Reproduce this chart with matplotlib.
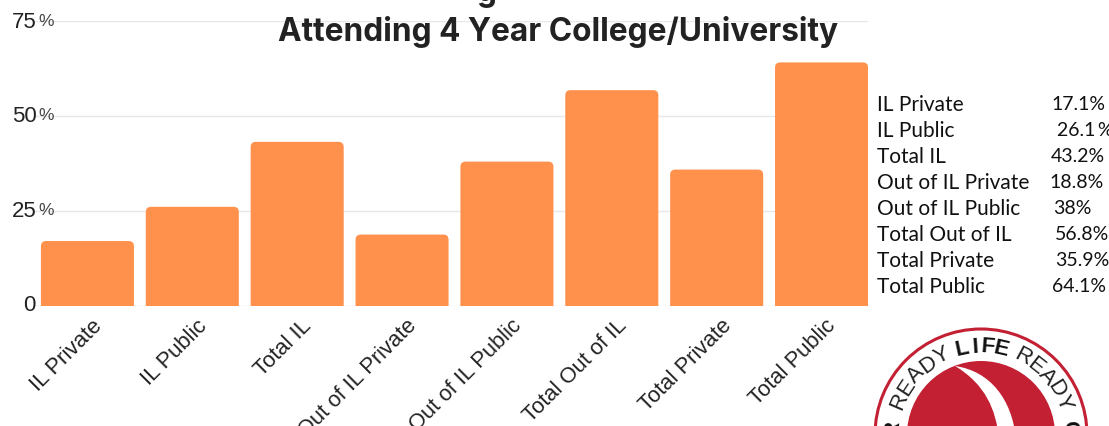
import matplotlib
matplotlib.use('Agg')
import matplotlib.pyplot as plt
import numpy as np
from matplotlib.patches import Circle, FancyBboxPatch, PathPatch
from matplotlib.path import Path
from matplotlib.transforms import offset_copy

W, H = 1109, 427

categories = ["IL Private", "IL Public", "Total IL", "Out of IL Private",
              "Out of IL Public", "Total Out of IL", "Total Private", "Total Public"]
values = [17.1, 26.1, 43.2, 18.8, 38, 56.8, 35.9, 64.1]
y_ticks = [0, 25, 50, 75]
table_values = ["17.1%", "26.1\u2009%", "43.2%", "18.8%", "38%", "56.8%", "35.9%", "64.1%"]
table_value_x = [1078, 1085, 1078, 1077, 1072, 1082, 1082, 1079]

BAR = "#FF914D"
DARK = "#222222"

fig = plt.figure(figsize=(W / 100, H / 100), dpi=100)
ax = fig.add_axes([35 / W, 1 - 307 / H, (868 - 35) / W, (307 - 22) / H])
ax.set_xlim(-0.5, 7.443)
ax.set_ylim(0, 75)
for s in ax.spines.values():
    s.set_visible(False)
ax.set_yticks(y_ticks)
ax.set_yticklabels([])
ax.grid(axis="y", color="#E8E8E8", lw=1)
ax.set_axisbelow(True)
ax.tick_params(length=0)

# rounded tops; the bottom corners run below the baseline and get clipped
width = 0.887
for i, v in enumerate(values):
    p = FancyBboxPatch((i - width / 2, -3), width, v + 3,
                       boxstyle="round,pad=0,rounding_size=0.05",
                       mutation_aspect=27, fc=BAR, ec="none", zorder=2)
    ax.add_patch(p)

ax.set_xticks(range(len(categories)))
ax.set_xticklabels(categories, rotation=45, ha="right", rotation_mode="anchor",
                   family="Liberation Sans", fontsize=15.8, color="#222222")
ax.tick_params(axis="x", pad=6)
for lab in ax.get_xticklabels():
    lab.set_transform(offset_copy(lab.get_transform(), fig=fig, x=4, y=0, units="dots"))

# y labels: big number with a smaller percent sign
ov = fig.add_axes([0, 0, 1, 1], facecolor="none")
ov.set_xlim(0, W)
ov.set_ylim(H, 0)
ov.axis("off")
for t in y_ticks:
    y = 307 - t * 3.8
    if t == 0:
        ov.text(35, 306, "0", ha="right", va="center", family="Liberation Sans",
                fontsize=16, color="#222222")
    else:
        ov.text(12, y, str(t), ha="left", va="center", family="Liberation Sans",
                fontsize=16, color="#222222")
        ov.text(38, y - 1, "%", ha="left", va="center", family="Liberation Sans",
                fontsize=12.5, color="#444444")

# title (first line is cut off by the top of the image)
ov.text(558, 32, "Attending 4 Year College/University", ha="center", va="center",
        family="Inter", weight="bold", fontsize=22.8, color=DARK)
ov.text(487, -8, "g", ha="center", va="center", family="Inter", weight="bold",
        fontsize=22.8, color=DARK)

# side table
for i, (c, tv, x) in enumerate(zip(categories, table_values, table_value_x)):
    y = 105 + i * 26
    ov.text(877, y, c, ha="left", va="center", family="Lato", fontsize=15, color="#111111")
    ov.text(x, y, tv, ha="center", va="center", family="Lato", fontsize=14, color="#111111")

# logo at lower right
RED = "#C32034"
cx, cy = 981, 436
ov.add_patch(Circle((cx, cy), 106, fc="white", ec=RED, lw=2.2))
ov.add_patch(Circle((cx, cy), 74, fc=RED, ec="none"))
swoosh = Path([(955, 367), (990, 372), (1012, 400), (1016, 440),
               (999, 440), (996, 410), (985, 385), (955, 367), (955, 367)],
              [Path.MOVETO, Path.CURVE4, Path.CURVE4, Path.CURVE4, Path.LINETO,
               Path.CURVE4, Path.CURVE4, Path.CURVE4, Path.CLOSEPOLY])
ov.add_patch(PathPatch(swoosh, fc="white", ec="none"))


def arc_text(s, start, step, radius, **kw):
    for k, ch in enumerate(s):
        a = np.radians(start + k * step)
        ov.text(cx + radius * np.sin(a), cy - radius * np.cos(a), ch, rotation=-np.degrees(a),
                rotation_mode="anchor", ha="center", va="center", **kw)


arc_text("READY", -67, 10.2, 89, family="Liberation Sans", fontsize=16, color="#222222")
arc_text("LIFE", -12, 8.3, 89, family="Liberation Sans", weight="bold", fontsize=16, color="#111111")
arc_text("READY", 28, 10, 89, family="Liberation Sans", fontsize=16, color="#222222")
arc_text("R", -85, 0, 89, family="Liberation Sans", weight="bold", fontsize=16, color="#111111")
arc_text("C", 85, 0, 89, family="Liberation Sans", weight="bold", fontsize=16, color="#111111")

fig.savefig("out.png", dpi=100)
